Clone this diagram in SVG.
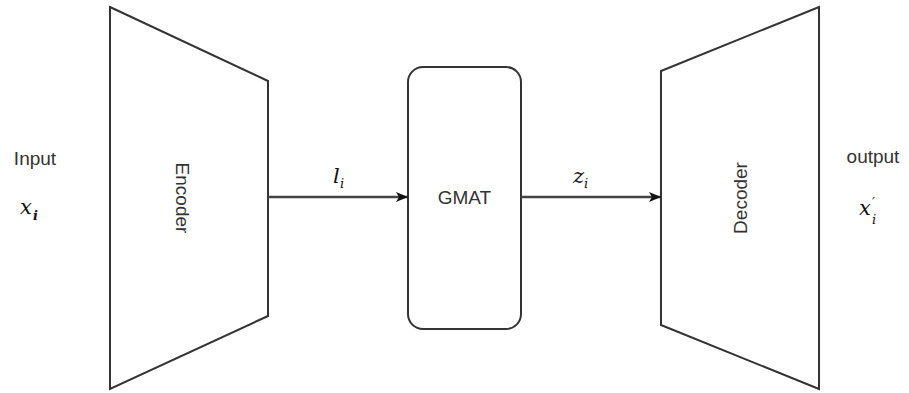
<svg xmlns="http://www.w3.org/2000/svg" width="909" height="393" viewBox="0 0 909 393">
<style>
.shape{fill:#fff;stroke:#333;stroke-width:2}
.lbl{font-family:"Liberation Sans",Arial,sans-serif;font-size:19px;fill:#333}
.math{font-family:"DejaVu Serif","Liberation Serif",serif;font-style:italic;font-size:21px;fill:#111}
.sub{font-family:"DejaVu Serif","Liberation Serif",serif;font-style:italic;font-size:13px;fill:#111}
.conn{stroke:#444;stroke-width:2.5;fill:none}
</style>
<defs>
<marker id="ah" markerWidth="12" markerHeight="12" refX="11" refY="6" orient="auto" markerUnits="userSpaceOnUse">
<path d="M0,1 L12,6 L0,11 L3,6 Z" fill="#111"/>
</marker>
</defs>
<rect width="909" height="393" fill="#fff"/>
<g id="input">
<text class="lbl" x="35" y="165" text-anchor="middle">Input</text>
<text class="math" x="20" y="214">x</text>
<text class="sub" x="33" y="220" font-weight="bold">i</text>
</g>
<g id="encoder">
<polygon class="shape" points="110,7 268,81 268,316 110,389"/>
<text class="lbl" transform="translate(176,198) rotate(90)" text-anchor="middle">Encoder</text>
</g>
<g id="gmat">
<rect class="shape" x="408" y="67" width="113" height="262" rx="15" ry="15"/>
<text class="lbl" x="464.5" y="204" text-anchor="middle">GMAT</text>
</g>
<g id="decoder">
<polygon class="shape" points="661,71 819,7 819,389 661,325"/>
<text class="lbl" transform="translate(747,198) rotate(-90)" text-anchor="middle">Decoder</text>
</g>
<g id="output">
<text class="lbl" x="873" y="163" text-anchor="middle">output</text>
<text class="math" x="859" y="215">x</text>
<text class="sub" x="872" y="207" font-size="15">′</text>
<text class="sub" x="872" y="224">i</text>
</g>
<g id="connectors">
<line class="conn" x1="268" y1="197" x2="407" y2="197" marker-end="url(#ah)"/>
<line class="conn" x1="521" y1="197" x2="660" y2="197" marker-end="url(#ah)"/>
<text class="math" x="333" y="183">l</text>
<text class="sub" x="340" y="188">i</text>
<text class="math" x="573" y="183">z</text>
<text class="sub" x="584" y="188">i</text>
</g>
</svg>
